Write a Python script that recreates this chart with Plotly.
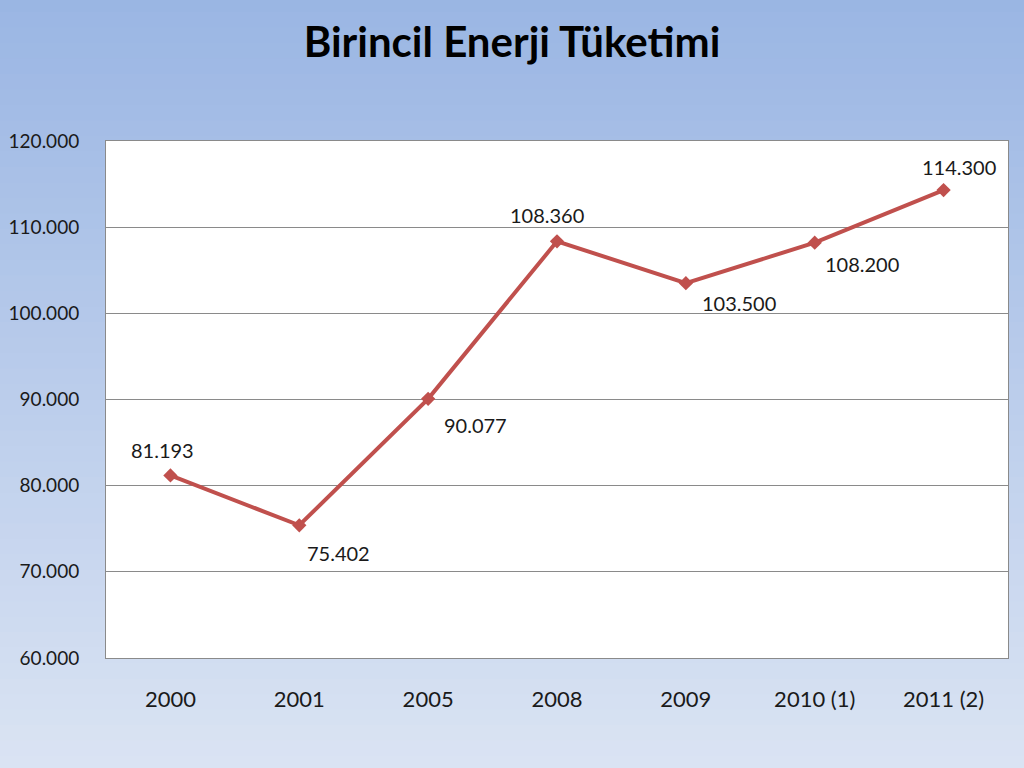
import plotly.graph_objects as go

categories = ["2000", "2001", "2005", "2008", "2009", "2010 (1)", "2011 (2)"]
values = [81193, 75402, 90077, 108360, 103500, 108200, 114300]
y_ticks = [60000, 70000, 80000, 90000, 100000, 110000, 120000]

# label placement (style): shifts in px
label_xshift = [-8, 39, 47, -10, 53, 47, 15]
label_yshift = [25, -28, -26, 26, -20, -21, 23]

def fmt(v):
    return f"{v:,}".replace(",", ".")

fig = go.Figure()
fig.add_trace(go.Scatter(
    x=categories, y=values, mode="lines+markers",
    line=dict(color="#c0504d", width=4),
    marker=dict(symbol="diamond", size=11, color="#c0504d"),
    hoverinfo="skip",
))

annotations = []
for i, (v, dx, dy) in enumerate(zip(values, label_xshift, label_yshift)):
    annotations.append(dict(x=i, y=v, text=fmt(v), showarrow=False,
                            xshift=dx, yshift=dy, xanchor="center", yanchor="middle",
                            font=dict(family="Lato", size=20, color="#1a1a1a")))

# gradient background via strips
shapes = []
n = 60
top = (149, 178, 226)
bot = (226, 233, 245)
for i in range(n):
    t = i / (n - 1)
    col = tuple(round(top[k] + (bot[k] - top[k]) * t) for k in range(3))
    shapes.append(dict(type="rect", xref="paper", yref="paper",
                       x0=-0.2, x1=1.2,
                       y0=1.4 - (i + 1) * (1.8 / n) - 0.002, y1=1.4 - i * (1.8 / n),
                       fillcolor="rgb(%d,%d,%d)" % col, line=dict(width=0), layer="below"))
shapes.append(dict(type="rect", xref="x domain", yref="y domain", x0=0, x1=1, y0=0, y1=1,
                   fillcolor="white", line=dict(width=0), layer="below"))

fig.update_layout(
    width=1024, height=768,
    margin=dict(l=106, r=16, t=141, b=110),
    paper_bgcolor="#c0d0ec",
    plot_bgcolor="white",
    showlegend=False,
    title=dict(text="<b>Birincil Enerji Tüketimi</b>", x=0.5, xanchor="center",
               y=0.945, yanchor="middle",
               font=dict(family="Lato", size=42, color="black")),
    shapes=shapes,
    annotations=annotations,
    xaxis=dict(type="category", showgrid=False, showline=True, linecolor="#8a8a8a",
               linewidth=1, mirror=True, ticks="", ticklabelstandoff=22, automargin=False,
               tickfont=dict(family="Lato", size=22, color="#1a1a1a"), range=[-0.5, 6.5]),
    yaxis=dict(range=[60000, 120000], tickvals=y_ticks, ticktext=[fmt(t) for t in y_ticks],
               showgrid=True, gridcolor="#8a8a8a", gridwidth=1,
               showline=True, linecolor="#8a8a8a", linewidth=1, mirror=True,
               ticks="", ticklabelstandoff=22, zeroline=False, automargin=False,
               tickfont=dict(family="Lato", size=19, color="#1a1a1a")),
)

fig.write_html("out.html")
